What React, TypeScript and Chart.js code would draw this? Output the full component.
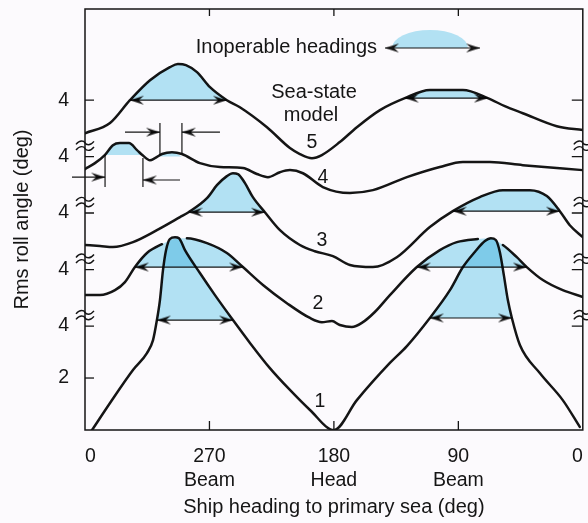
import React, { useEffect, useRef } from 'react';
import { Chart, registerables } from 'chart.js';

Chart.register(...registerables);

const FONT = '"Liberation Sans", Arial, Helvetica, sans-serif';
const INK = '#151515';
const SHADE = 'rgb(180,230,245)';
const PAPER = '#fcfafd';

// Ship heading to primary sea (deg); axis is reversed: left edge 0 (=360), 270, 180, 90, right edge 0
const X_TICKS = [0, 90, 180, 270, 360];
const X_TICK_LABELS = [['0'], ['90', 'Beam'], ['180', 'Head'], ['270', 'Beam'], ['0']];

// stacked layout: each sea-state curve is shifted up by an offset (plot units = deg)
const Y_MAX = 16.2;
const CURVE_OFFSET = [0, 2.17, 4.35, 6.52, 8.69];
const CURVE_NAMES = ['1', '2', '3', '4', '5'];
const CURVE_LABEL_H = [190.1, 191.6, 188.7, 188.0, 195.9];
const CURVE_LABEL_V = [1.08, 2.71, 2.92, 3.21, 2.35];

// Rms roll angle (deg) per sea-state model
const C1_H = [354.9, 341.9, 325.3, 315.2, 310.8, 308.0, 305.8, 303.6, 301.4, 298.6, 294.9, 292.0, 287.7, 276.9, 266.0, 253.0, 240.7, 226.3, 211.8, 197.3, 180.0, 163.4, 139.5, 127.2, 110.6, 96.1, 86.7, 78.1, 70.8, 66.5, 62.9, 60.0, 57.1, 54.2, 51.3, 45.5, 31.1, 14.5, 2.2];
const C1_V = [0, 1.04, 2.31, 2.96, 3.46, 4.23, 5.0, 6.15, 6.92, 7.35, 7.42, 7.38, 6.92, 6.04, 5.19, 4.23, 3.35, 2.38, 1.54, 0.77, 0, 1.15, 2.58, 3.23, 4.31, 5.38, 6.27, 6.85, 7.27, 7.38, 7.31, 6.85, 5.96, 5.0, 4.31, 3.27, 2.19, 1.15, 0.12];

const C2_H = [360, 349.2, 338.3, 331.1, 323.9, 315.2, 304.3, 294.9, 286.3, 271.8, 257.4, 245.8, 231.3, 214.0, 197.3, 188.7, 181.4, 175.7, 167.0, 159.8, 150.4, 139.5, 120.0, 103.4, 91.1, 75.9, 67.2, 57.8, 47.7, 40.5, 28.9, 14.5, 0];
const C2_V = [3.02, 3.02, 3.21, 3.52, 4.10, 4.64, 4.98, 5.18, 5.21, 5.02, 4.64, 4.10, 3.41, 2.71, 2.14, 1.98, 2.02, 1.87, 1.79, 1.95, 2.37, 3.02, 4.10, 4.75, 5.06, 5.18, 5.21, 4.95, 4.48, 4.10, 3.60, 3.21, 2.95];
// where curve 2 passes behind the peaks of curve 1
const C2_GAP_FROM = [304.3, 75.9];
const C2_GAP_TO = [286.3, 57.8];

const C3_H = [360, 349.2, 339.8, 325.3, 308.0, 291.3, 285.1, 271.8, 264.6, 257.4, 253.0, 249.4, 244.3, 238.6, 229.9, 219.0, 204.6, 193.8, 180.7, 168.4, 151.8, 134.5, 110.6, 94.0, 74.5, 57.8, 38.3, 26.0, 16.6, 9.4, 0];
const C3_V = [2.77, 2.73, 2.69, 2.88, 3.34, 3.84, 4.03, 4.57, 5.07, 5.42, 5.53, 5.50, 5.15, 4.61, 4.03, 3.34, 2.77, 2.53, 2.34, 2.0, 1.92, 2.30, 3.46, 4.07, 4.61, 4.88, 4.88, 4.65, 4.07, 3.53, 3.07];

const C4_H = [360, 352.8, 345.5, 339.8, 334.7, 328.2, 322.4, 318.1, 313.0, 309.4, 304.3, 297.1, 289.9, 276.9, 262.4, 245.8, 235.7, 227.7, 219.0, 211.8, 202.4, 188.0, 168.4, 151.8, 127.2, 103.4, 86.7, 67.2, 43.4, 0];
const C4_V = [3.52, 3.75, 4.07, 4.44, 4.52, 4.52, 4.25, 4.04, 3.86, 3.94, 4.10, 4.17, 4.10, 3.75, 3.60, 3.56, 3.33, 3.21, 3.40, 3.48, 3.36, 2.83, 2.60, 2.71, 3.21, 3.60, 3.79, 3.79, 3.67, 3.48];

const C5_H = [360, 341.9, 327.5, 313.0, 298.6, 292.8, 287.0, 279.0, 269.6, 257.4, 248.0, 228.4, 211.8, 204.6, 195.9, 188.7, 175.7, 163.4, 146.7, 128.7, 110.6, 86.7, 68.7, 56.4, 43.4, 18.8, 0];
const C5_V = [2.73, 3.12, 4.0, 4.77, 5.27, 5.39, 5.35, 5.08, 4.50, 4.0, 3.73, 2.96, 2.16, 1.93, 1.77, 1.89, 2.39, 2.96, 3.62, 4.08, 4.39, 4.39, 4.08, 3.77, 3.50, 3.0, 2.85];

// inoperable heading sectors (curve index, heading range, roll level)
const INOP_CURVE = [0, 0, 1, 1, 2, 2, 3, 3, 4, 4];
const INOP_FROM = [308.0, 110.6, 323.9, 120.0, 285.1, 94.0, 345.5, 305.8, 327.5, 128.7];
const INOP_TO = [253.0, 51.3, 245.8, 40.5, 229.9, 16.6, 318.1, 289.9, 257.4, 68.7];
const INOP_LEVEL = [4.23, 4.31, 4.10, 4.10, 4.03, 4.07, 4.06, 4.0, 4.0, 4.08];
const INOP_ARROW = [true, true, true, true, true, true, false, false, true, true];

// narrow sectors on curve 4 marked with bars and inward arrows
const MARK4_H = [345.5, 318.1, 305.8, 289.9];
const MARK4_LO = [2.83, 2.83, 4.06, 4.12];
const MARK4_HI = [4.07, 3.95, 5.29, 5.29];
const MARK4_TAIL = [369.4, 291.3, 331.1, 262.4];
const MARK4_ARROW_V = [3.21, 3.10, 4.94, 4.94];

const Y_TICK_VALUES = [2, ...CURVE_OFFSET.map((o) => 4 + o)];
const Y_TICK_LABELS = ['2', '4', '4', '4', '4', '4'];

const CURVES_H = [C1_H, C2_H, C3_H, C4_H, C5_H];
const CURVES_V = [C1_V, C2_V, C3_V, C4_V, C5_V];

function makeHead(dir: number): HTMLCanvasElement {
  const L = 14;
  const W = 9;
  const c = document.createElement('canvas');
  c.width = 2 * L;
  c.height = W + 2;
  const g = c.getContext('2d')!;
  g.fillStyle = INK;
  const cx = L;
  const cy = (W + 2) / 2;
  g.beginPath();
  g.moveTo(cx, cy);
  g.lineTo(cx - dir * L, cy - W / 2);
  g.lineTo(cx - dir * (L - 5), cy);
  g.lineTo(cx - dir * L, cy + W / 2);
  g.closePath();
  g.fill();
  return c;
}

export default function App() {
  const ref = useRef<HTMLCanvasElement | null>(null);

  useEffect(() => {
    document.body.style.margin = '0';
    document.body.style.background = PAPER;
    const canvas = ref.current!;
    const headR = makeHead(1);
    const headL = makeHead(-1);

    const datasets: any[] = [];

    // shaded inoperable sectors
    INOP_CURVE.forEach((ci, i) => {
      const off = CURVE_OFFSET[ci];
      const H = CURVES_H[ci];
      const V = CURVES_V[ci];
      const pts: any[] = [{ x: INOP_FROM[i], y: INOP_LEVEL[i] + off }];
      H.forEach((h, j) => {
        if (h < INOP_FROM[i] && h > INOP_TO[i]) pts.push({ x: h, y: V[j] + off });
      });
      pts.push({ x: INOP_TO[i], y: INOP_LEVEL[i] + off });
      datasets.push({
        data: pts,
        borderWidth: 0,
        borderColor: 'rgba(0,0,0,0)',
        backgroundColor: SHADE,
        fill: { value: INOP_LEVEL[i] + off },
        pointRadius: 0,
        cubicInterpolationMode: 'monotone',
        order: 10,
      });
    });

    // curves
    CURVES_H.forEach((H, ci) => {
      const off = CURVE_OFFSET[ci];
      const ds: any = {
        data: H.map((h, j) => ({ x: h, y: CURVES_V[ci][j] + off })),
        borderColor: INK,
        borderWidth: 2.5,
        borderJoinStyle: 'round',
        borderCapStyle: 'round',
        pointRadius: 0,
        fill: false,
        cubicInterpolationMode: 'monotone',
        order: 5,
      };
      if (ci === 1) {
        ds.segment = {
          borderColor: (ctx: any) => {
            const a = ctx.p0.parsed.x;
            const b = ctx.p1.parsed.x;
            for (let g = 0; g < C2_GAP_FROM.length; g++) {
              if (a <= C2_GAP_FROM[g] && a >= C2_GAP_TO[g] && b <= C2_GAP_FROM[g] && b >= C2_GAP_TO[g]) return 'rgba(0,0,0,0)';
            }
            return INK;
          },
        };
      }
      datasets.push(ds);
    });

    // double arrows across inoperable sectors
    INOP_CURVE.forEach((ci, i) => {
      if (!INOP_ARROW[i]) return;
      const y = INOP_LEVEL[i] + CURVE_OFFSET[ci];
      datasets.push({
        data: [{ x: INOP_FROM[i], y }, { x: INOP_TO[i], y }],
        borderColor: INK,
        borderWidth: 1.2,
        pointStyle: [headL, headR],
        pointRadius: 3,
        fill: false,
        order: 0,
      });
    });

    // curve 4 markers
    const off4 = CURVE_OFFSET[3];
    MARK4_H.forEach((h, i) => {
      datasets.push({
        data: [{ x: h, y: MARK4_LO[i] + off4 }, { x: h, y: MARK4_HI[i] + off4 }],
        borderColor: INK,
        borderWidth: 1.2,
        pointRadius: 0,
        fill: false,
        order: 0,
      });
      const tip = h;
      const tail = MARK4_TAIL[i];
      datasets.push({
        data: [{ x: tail, y: MARK4_ARROW_V[i] + off4 }, { x: tip, y: MARK4_ARROW_V[i] + off4 }],
        borderColor: INK,
        borderWidth: 1.2,
        pointStyle: tip < tail ? headR : headL,
        pointRadius: [0, 3],
        fill: false,
        clip: false,
        order: 0,
      });
    });

    const decor = {
      id: 'decor',
      beforeDraw(chart: any) {
        const { ctx, width, height } = chart;
        ctx.save();
        ctx.fillStyle = PAPER;
        ctx.fillRect(0, 0, width, height);
        ctx.restore();
      },
      beforeDatasetsDraw(chart: any) {
        chart.ctx.globalCompositeOperation = 'multiply';
      },
      afterDatasetsDraw(chart: any) {
        chart.ctx.globalCompositeOperation = 'source-over';
      },
      afterDraw(chart: any) {
        const { ctx, chartArea: a, scales } = chart;
        const xs = scales.x;
        const ys = scales.y;
        ctx.save();
        ctx.strokeStyle = INK;
        ctx.fillStyle = INK;
        ctx.lineWidth = 1.5;
        ctx.strokeRect(a.left, a.top, a.right - a.left, a.bottom - a.top);
        // x ticks (inside, top & bottom)
        ctx.lineWidth = 1.3;
        X_TICKS.forEach((t) => {
          if (t === 0 || t === 360) return;
          const px = xs.getPixelForValue(t);
          ctx.beginPath();
          ctx.moveTo(px, a.bottom);
          ctx.lineTo(px, a.bottom - 9);
          ctx.moveTo(px, a.top);
          ctx.lineTo(px, a.top + 7);
          ctx.stroke();
        });
        // y ticks
        Y_TICK_VALUES.forEach((v, i) => {
          const py = ys.getPixelForValue(v);
          ctx.beginPath();
          ctx.moveTo(a.left, py);
          ctx.lineTo(a.left + 9, py);
          if (i > 0) {
            ctx.moveTo(a.right, py);
            ctx.lineTo(a.right - 11, py);
          }
          ctx.stroke();
        });
        // axis breaks
        const tilde = (cx: number, cy: number) => {
          ctx.beginPath();
          ctx.moveTo(cx - 9, cy + 1.5);
          ctx.bezierCurveTo(cx - 5, cy - 3.5, cx - 1, cy - 2, cx, cy);
          ctx.bezierCurveTo(cx + 1, cy + 2, cx + 5, cy + 3.5, cx + 9, cy - 1.5);
          ctx.stroke();
        };
        ctx.lineWidth = 1.4;
        CURVE_OFFSET.slice(0, 4).forEach((o) => {
          const py = ys.getPixelForValue(4 + o + 0.42);
          [a.left, a.right].forEach((cx: number) => {
            tilde(cx, py - 2.8);
            tilde(cx, py + 2.8);
          });
        });
        // curve labels
        ctx.font = `19.5px ${FONT}`;
        ctx.textAlign = 'center';
        ctx.textBaseline = 'middle';
        CURVE_NAMES.forEach((n, i) => {
          ctx.fillText(n, xs.getPixelForValue(CURVE_LABEL_H[i]), ys.getPixelForValue(CURVE_LABEL_V[i] + CURVE_OFFSET[i]));
        });
        // annotations
        ctx.font = `20px ${FONT}`;
        ctx.fillText('Sea-state', 314, 92);
        ctx.fillText('model', 311, 115);
        ctx.textAlign = 'right';
        ctx.fillText('Inoperable headings', 377, 47);
        // legend swatch
        ctx.globalCompositeOperation = 'multiply';
        ctx.fillStyle = SHADE;
        ctx.beginPath();
        ctx.ellipse(430, 48, 38, 18, 0, Math.PI, 2 * Math.PI);
        ctx.closePath();
        ctx.fill();
        ctx.globalCompositeOperation = 'source-over';
        ctx.lineWidth = 1.2;
        ctx.beginPath();
        ctx.moveTo(385, 48);
        ctx.lineTo(480, 48);
        ctx.stroke();
        ctx.drawImage(headL, 385 - headL.width / 2, 48 - headL.height / 2);
        ctx.drawImage(headR, 480 - headR.width / 2, 48 - headR.height / 2);
        ctx.restore();
      },
    };

    const chart = new Chart(canvas, {
      type: 'line',
      data: { datasets },
      options: {
        responsive: false,
        animation: false,
        events: [],
        layout: { padding: { left: 0, right: 5, top: 9, bottom: 0 } },
        plugins: { legend: { display: false }, tooltip: { enabled: false } },
        scales: {
          x: {
            type: 'linear',
            min: 0,
            max: 360,
            reverse: true,
            afterBuildTicks: (s: any) => {
              s.ticks = X_TICKS.map((v) => ({ value: v }));
            },
            afterFit: (s: any) => {
              s.height = 93;
              s.paddingLeft = 0;
              s.paddingRight = 0;
              s.paddingTop = 0;
              s.paddingBottom = 0;
            },
            grid: { display: false, drawTicks: false },
            border: { display: false },
            ticks: {
              autoSkip: false,
              maxRotation: 0,
              align: 'inner',
              padding: 15,
              color: INK,
              font: { family: FONT, size: 19.5, lineHeight: 1.22 },
              callback: (v: any) => X_TICK_LABELS[X_TICKS.indexOf(Number(v))] ?? '',
            },
            title: {
              display: true,
              text: 'Ship heading to primary sea (deg)',
              color: INK,
              font: { family: FONT, size: 20, lineHeight: 1.2 },
              padding: { top: 0, bottom: 4 },
            },
          },
          y: {
            type: 'linear',
            min: 0,
            max: Y_MAX,
            afterBuildTicks: (s: any) => {
              s.ticks = Y_TICK_VALUES.map((v) => ({ value: v }));
            },
            afterFit: (s: any) => {
              s.width = 85;
              s.paddingLeft = 0;
              s.paddingRight = 0;
              s.paddingTop = 0;
              s.paddingBottom = 0;
            },
            grid: { display: false, drawTicks: false },
            border: { display: false },
            ticks: {
              autoSkip: false,
              padding: 16,
              color: INK,
              font: { family: FONT, size: 19.5 },
              callback: (v: any) => {
                const i = Y_TICK_VALUES.findIndex((t) => Math.abs(t - Number(v)) < 1e-6);
                return i >= 0 ? Y_TICK_LABELS[i] : '';
              },
            },
            title: {
              display: true,
              text: 'Rms roll angle (deg)',
              color: INK,
              font: { family: FONT, size: 20, lineHeight: 1.2 },
              padding: { top: 10, bottom: 0 },
            },
          },
        },
      } as any,
      plugins: [decor],
    });
    return () => chart.destroy();
  }, []);

  return (
    <div style={{ width: 588, height: 523, overflow: 'hidden' }}>
      <canvas ref={ref} width={588} height={523} style={{ display: 'block', width: 588, height: 523 }} />
    </div>
  );
}
